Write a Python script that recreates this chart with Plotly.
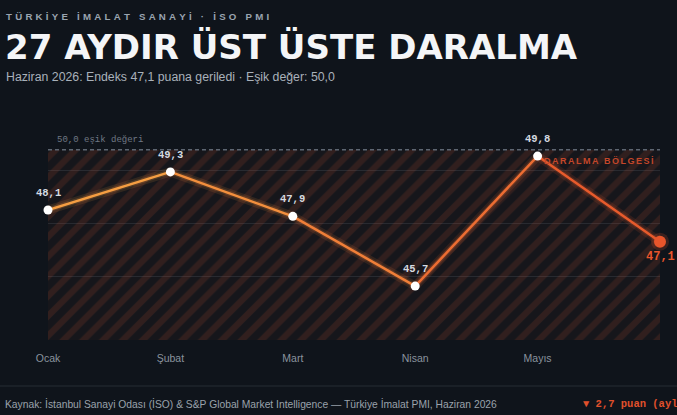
import plotly.graph_objects as go

# ---- data ----
months = ["Ocak", "Şubat", "Mart", "Nisan", "Mayıs", "Haziran"]
pmi = [48.1, 49.3, 47.9, 45.7, 49.8, 47.1]
labels = ["48,1", "49,3", "47,9", "45,7", "49,8", "47,1"]
threshold = 50.0
y_min, y_max = 44.0, 51.0
grid_vals = [46.0, 47.667, 49.333, 51.0]
seg_colors = ["#f59e42", "#f38f3d", "#f07f38", "#ec6d32", "#e85b2c"]

BG = "#0f141b"
W, H = 677, 415
ML, MR, MT, MB = 48, 17, 118, 75
PW, PH = W - ML - MR, H - MT - MB


def px_x(px):
    return (px - ML) / PW


def px_y(py):
    return (H - MB - py) / PH


def spaced(s, sep="\u2009"):
    return sep.join(list(s))


xs = list(range(len(months)))
fig = go.Figure()

# hatched contraction zone
fig.add_trace(go.Scatter(
    x=[xs[0], xs[-1], xs[-1], xs[0], xs[0]],
    y=[y_min, y_min, threshold, threshold, y_min],
    fill="toself", mode="none", hoverinfo="skip", showlegend=False,
    fillcolor="rgba(0,0,0,0)",
    fillpattern=dict(shape="/", size=14, solidity=0.45,
                     fgcolor="rgba(232,85,43,0.26)", bgcolor="rgba(232,85,43,0.03)",
                     fillmode="overlay"),
))

# threshold dashed line
fig.add_trace(go.Scatter(
    x=[xs[0], xs[-1]], y=[threshold, threshold], mode="lines",
    line=dict(color="#5d6672", width=1.5, dash="4px,3px"),
    hoverinfo="skip", showlegend=False,
))

# glow + line segments with gradient colors
for i in range(len(xs) - 1):
    fig.add_trace(go.Scatter(
        x=xs[i:i + 2], y=pmi[i:i + 2], mode="lines",
        line=dict(color=seg_colors[i], width=9), opacity=0.12,
        hoverinfo="skip", showlegend=False, cliponaxis=False,
    ))
    fig.add_trace(go.Scatter(
        x=xs[i:i + 2], y=pmi[i:i + 2], mode="lines",
        line=dict(color=seg_colors[i], width=5), opacity=0.18,
        hoverinfo="skip", showlegend=False, cliponaxis=False,
    ))
    fig.add_trace(go.Scatter(
        x=xs[i:i + 2], y=pmi[i:i + 2], mode="lines",
        line=dict(color=seg_colors[i], width=2.5),
        hoverinfo="skip", showlegend=False, cliponaxis=False,
    ))

# markers
fig.add_trace(go.Scatter(
    x=xs[:-1], y=pmi[:-1], mode="markers",
    marker=dict(size=9, color="#ffffff", line=dict(width=0)),
    showlegend=False, cliponaxis=False,
))
fig.add_trace(go.Scatter(
    x=xs[-1:], y=pmi[-1:], mode="markers",
    marker=dict(size=18, color="rgba(232,85,43,0.2)", line=dict(width=0)),
    showlegend=False, cliponaxis=False, hoverinfo="skip",
))
fig.add_trace(go.Scatter(
    x=xs[-1:], y=pmi[-1:], mode="markers",
    marker=dict(size=12, color="#e8552b", line=dict(width=0)),
    showlegend=False, cliponaxis=False,
))

mono = "Courier New, Liberation Mono, monospace"
sans = "Liberation Sans, Arial, sans-serif"
heavy = "DejaVu Sans, Liberation Sans, sans-serif"

annotations = []
for i, (v, lab) in enumerate(zip(pmi, labels)):
    last = i == len(pmi) - 1
    annotations.append(dict(
        x=xs[i], y=v, text=f"<b>{lab}</b>", showarrow=False,
        yshift=-15 if last else 17,
        font=dict(family=mono, size=12 if last else 10.5,
                  color="#e8552b" if last else "#d6dbe1"),
    ))

# threshold label & zone label
annotations.append(dict(
    x=px_x(55), y=threshold, xref="paper", yref="y", xanchor="left",
    yanchor="bottom", yshift=3, showarrow=False, text="50,0 eşik değeri",
    font=dict(family=mono, size=9, color="#6f7884"),
))
annotations.append(dict(
    x=px_x(655), y=px_y(161), xref="paper", yref="paper", xanchor="right",
    yanchor="middle", showarrow=False,
    text="<b>" + spaced("DARALMA BÖLGESİ", "\u2006") + "</b>",
    font=dict(family=sans, size=9, color="#c4472a"),
))

# header
annotations.append(dict(
    x=px_x(4), y=px_y(16), xref="paper", yref="paper", xanchor="left",
    yanchor="middle", showarrow=False,
    text="<b>" + spaced("TÜRKİYE İMALAT SANAYİ · İSO PMI", "\u2004") + "</b>",
    font=dict(family=sans, size=9.7, color="#9aa4b0"),
))
annotations.append(dict(
    x=px_x(3), y=px_y(47), xref="paper", yref="paper", xanchor="left",
    yanchor="middle", showarrow=False,
    text="<b>27 AYDIR ÜST ÜSTE DARALMA</b>",
    font=dict(family=heavy, size=34, color="#f4f5f7"),
))
annotations.append(dict(
    x=px_x(4), y=px_y(77), xref="paper", yref="paper", xanchor="left",
    yanchor="middle", showarrow=False,
    text="Haziran 2026: Endeks 47,1 puana geriledi · Eşik değer: 50,0",
    font=dict(family=sans, size=12.3, color="#a9b1ba"),
))
# footer
annotations.append(dict(
    x=px_x(3), y=px_y(404), xref="paper", yref="paper", xanchor="left",
    yanchor="middle", showarrow=False,
    text="Kaynak: İstanbul Sanayi Odası (İSO) & S&P Global Market Intelligence — Türkiye İmalat PMI, Haziran 2026",
    font=dict(family=sans, size=10.3, color="#9aa2ab"),
))
annotations.append(dict(
    x=px_x(581), y=px_y(404), xref="paper", yref="paper", xanchor="left",
    yanchor="middle", showarrow=False,
    text="<b>▼ 2,7 puan (aylık)</b>",
    font=dict(family=mono, size=10.5, color="#e0502b"),
))

shapes = [dict(
    type="line", xref="paper", yref="paper",
    x0=px_x(0), x1=px_x(W), y0=px_y(386), y1=px_y(386),
    line=dict(color="#262c35", width=1),
)]

fig.update_layout(
    width=W, height=H,
    margin=dict(l=ML, r=MR, t=MT, b=MB, pad=0),
    paper_bgcolor=BG, plot_bgcolor=BG,
    showlegend=False,
    annotations=annotations, shapes=shapes,
    xaxis=dict(
        range=[xs[0], xs[-1]], tickvals=xs, ticktext=months,
        showgrid=False, zeroline=False, showline=False,
        ticks="outside", ticklen=8, tickcolor="rgba(0,0,0,0)",
        tickfont=dict(family=sans, size=10.5, color="#8a939e"),
        fixedrange=True,
    ),
    yaxis=dict(
        range=[y_min, y_max], tickvals=grid_vals, showticklabels=False,
        showgrid=True, gridcolor="#222831", gridwidth=1,
        zeroline=False, showline=False, fixedrange=True,
    ),
)

fig.write_html(
    "out.html",
    config={"displayModeBar": False},
    post_script="document.body.style.margin='0';document.body.style.background='#0f141b';document.body.style.overflow='hidden';",
)
